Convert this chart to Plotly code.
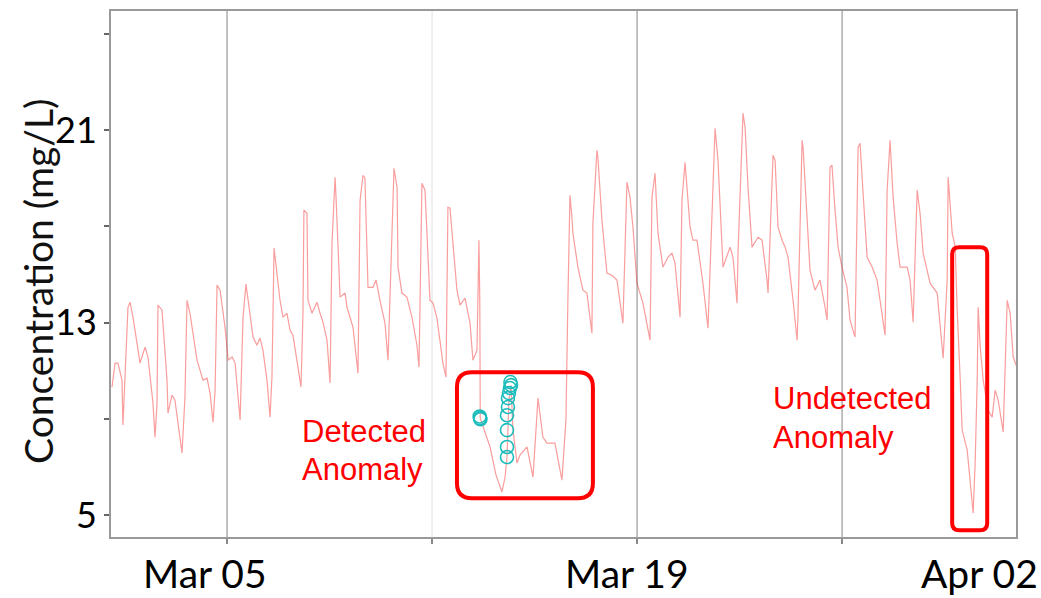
import pandas as pd
import plotly.graph_objects as go

# ---- measured concentration series (hours after start, mg/L) ----
start = pd.Timestamp("2019-03-01 00:00")

hours = [
    1.7, 4.2, 6.6, 9.9, 10.7, 12.4, 14.8, 16.5, 18.9, 24.7, 28.8, 31.2, 35.3, 37.0, 38.6,
    39.4, 42.7, 46.8, 47.6, 50.9, 53.3, 59.1, 61.5, 63.2, 65.6, 71.4, 76.3, 79.6, 82.1, 84.5,
    86.2, 87.8, 90.3, 94.4, 96.9, 100.1, 102.6, 106.7, 109.1, 111.5, 114.8, 117.3, 120.5, 123.0,
    125.4, 128.7, 131.2, 132.8, 134.5, 136.9, 139.4, 141.8, 145.1, 147.6, 150.0, 154.1, 156.6,
    158.2, 159.0, 161.5, 162.3, 165.6, 169.7, 172.2, 174.6, 177.9, 180.4, 182.0, 184.5, 185.3,
    186.9, 188.6, 192.7, 194.3, 199.2, 203.3, 205.0, 207.4, 209.0, 210.7, 211.5, 215.6, 218.1,
    221.3, 225.4, 227.9, 232.0, 232.8, 235.3, 236.1, 239.3, 243.4, 247.5, 251.6, 253.3, 255.7,
    258.2, 259.8, 262.3, 264.8, 268.0, 272.9, 275.4, 277.0, 278.7, 281.1, 284.4, 286.9, 291.0,
    295.1, 297.5, 300.8, 302.4, 303.1, 303.5, 311.5, 316.4, 321.3, 323.8, 325.4, 326.2, 327.0,
    328.7, 330.3, 333.6, 336.0, 341.8, 346.7, 350.8, 354.8, 358.1, 364.7, 370.4, 373.7, 375.3,
    377.0, 378.6, 379.4, 383.5, 387.6, 390.9, 395.0, 395.8, 399.1, 399.9, 403.2, 407.3, 411.4,
    415.5, 420.4, 423.7, 426.2, 428.6, 431.9, 436.8, 442.6, 444.2, 446.7, 449.1, 453.2, 457.3,
    460.6, 463.1, 467.2, 468.8, 471.3, 475.4, 477.8, 481.1, 486.0, 490.1, 493.4, 495.9, 498.3,
    502.4, 508.2, 510.6, 513.9, 514.7, 518.8, 520.5, 522.9, 526.2, 531.1, 534.4, 538.5, 539.3,
    543.4, 545.1, 547.5, 550.8, 553.3, 555.7, 559.8, 563.1, 563.9, 567.2, 568.0, 571.3, 573.7,
    577.8, 581.9, 586.0, 587.7, 590.1, 591.7, 594.2, 596.7, 599.9, 604.0, 606.5, 610.6, 613.1,
    614.7, 617.2, 620.5, 624.6, 628.7, 635.2, 636.9, 639.3, 641.8, 645.1, 647.5, 653.3, 655.7,
    658.2, 661.5, 663.9, 666.4, 672.1, 677.9, 682.8, 686.1, 686.9, 690.2, 692.7, 694.3, 696.8,
    698.4, 702.5, 705.0, 707.4, 709.1, 710.7, 711.5, 713.2, 715.6, 719.7, 723.0, 725.4, 727.9,
    732.0, 735.3, 737.7, 740.2, 742.6,
]

conc = [
    10.32, 11.32, 11.32, 10.61, 8.74, 10.61, 13.64, 13.85, 13.23, 11.32, 11.98, 11.57, 9.65, 8.24, 9.65,
    13.73, 13.52, 10.61, 9.24, 9.99, 9.78, 7.58, 9.90, 13.93, 13.39, 11.44, 10.61, 10.69, 10.07, 8.86,
    10.19, 14.56, 14.35, 12.77, 11.44, 11.57, 11.32, 8.95, 13.23, 14.60, 13.23, 12.40, 12.06, 12.36,
    11.86, 10.61, 9.07, 10.73, 16.10, 15.06, 13.93, 13.23, 13.39, 12.69, 12.48, 11.15, 10.32,
    13.39, 17.68, 17.55, 13.93, 13.39, 13.85, 13.39, 13.02, 12.27, 10.49, 16.30, 19.05, 18.22,
    16.30, 14.06, 14.23, 13.64, 12.81, 10.90, 18.09, 19.13, 19.01, 15.31, 14.47, 14.47, 14.77,
    13.93, 12.98, 11.44, 18.38, 19.42, 18.63, 15.31, 14.23, 14.06, 13.23, 12.06, 11.15, 18.80,
    18.51, 16.72, 13.93, 13.81, 13.19, 11.32, 10.73, 17.80, 17.76, 16.30, 14.35, 13.73, 14.02,
    12.98, 11.44, 11.86, 16.43, 13.93, 9.03, 7.83, 6.66, 5.96, 6.58, 7.41, 8.53, 9.78,
    10.40, 8.53, 7.16, 7.49, 7.83, 6.58, 9.86, 8.24, 7.99, 7.99, 6.45, 8.95, 13.93,
    18.30, 17.38, 16.72, 15.31, 14.35, 14.23, 12.56, 17.13, 20.17, 19.88, 17.26, 15.06, 14.97,
    14.77, 12.98, 18.84, 18.22, 16.97, 14.64, 13.81, 12.27, 18.22, 19.21, 16.72, 15.31, 15.72,
    15.89, 15.47, 13.23, 18.09, 19.67, 16.97, 16.43, 16.43, 14.64, 12.77, 17.38, 21.08, 19.75,
    15.31, 16.14, 15.72, 13.81, 15.89, 21.71, 21.12, 18.63, 16.14, 16.55, 16.43, 14.77, 14.23,
    19.96, 19.75, 16.97, 16.43, 16.14, 15.72, 13.93, 12.27, 13.39, 20.58, 20.29, 17.26, 15.18,
    14.35, 14.77, 13.64, 13.10, 19.46, 19.55, 17.68, 16.14, 15.31, 14.47, 13.10, 12.40, 20.29,
    20.46, 18.38, 15.72, 15.31, 14.77, 12.48, 18.51, 20.58, 18.22, 16.30, 15.31, 15.31, 14.77,
    13.02, 18.51, 17.55, 15.89, 14.64, 14.23, 11.52, 14.77, 19.05, 16.72, 16.14, 13.52, 10.61,
    8.53, 7.70, 6.25, 5.08, 7.29, 10.61, 13.64, 11.98, 10.61, 9.36, 9.07, 10.19, 9.78,
    8.45, 13.93, 13.39, 11.57, 11.23,
]

# ---- points flagged by the detector ----
flag_hours = [303.0, 303.3, 303.6, 325.4, 325.4, 325.4, 325.4, 326.2, 326.2, 327.0, 327.8, 328.7, 328.2]
flag_conc = [9.10, 9.03, 8.98, 7.41, 7.83, 8.53, 9.15, 9.49, 9.86, 10.07, 10.28, 10.40, 10.53]

# ---- highlighted anomaly windows: (hour start, hour end, conc low, conc high) ----
detected_window = (284.4, 395.8, 5.70, 10.94)
undetected_window = (690.2, 718.9, 4.37, 16.14)

# ---- axis ticks ----
y_ticks = [5, 9, 13, 17, 21, 25]
y_tick_text = ["5", "", "13", "", "21", ""]
week_lines = ["2019-03-05", "2019-03-12", "2019-03-19", "2019-03-26"]
date_labels = ["Mar 05", "Mar 19", "Apr 02"]
y_title = "Concentration (mg/L)"

X_RANGE_H = (0.9, 742.5)
Y_RANGE = (4.086, 25.96)
PLOT_L, PLOT_T = 111, 9
PLOT_W, PLOT_H = 905, 528

times = start + pd.to_timedelta(hours, unit="h")
flag_times = start + pd.to_timedelta(flag_hours, unit="h")

fig = go.Figure()
fig.add_trace(go.Scatter(
    x=times, y=conc, mode="lines",
    line=dict(color="rgba(245,60,60,0.5)", width=1.2),
    hoverinfo="x+y", showlegend=False,
))
fig.add_trace(go.Scatter(
    x=flag_times, y=flag_conc, mode="markers",
    marker=dict(symbol="circle-open", size=13, color="#1dbcbc", line=dict(width=1.6)),
    showlegend=False,
))


def to_paper(h, v):
    px = (h - X_RANGE_H[0]) / (X_RANGE_H[1] - X_RANGE_H[0])
    py = (v - Y_RANGE[0]) / (Y_RANGE[1] - Y_RANGE[0])
    return px, py


def px_to_paper(px, py):
    return (px - PLOT_L) / PLOT_W, (PLOT_T + PLOT_H - py) / PLOT_H


def rounded_box(window, radius):
    h0, h1, v0, v1 = window
    x0, y0 = to_paper(h0, v0)
    x1, y1 = to_paper(h1, v1)
    rx, ry = radius / PLOT_W, radius / PLOT_H
    return (
        f"M {x0+rx},{y0} L {x1-rx},{y0} Q {x1},{y0} {x1},{y0+ry} "
        f"L {x1},{y1-ry} Q {x1},{y1} {x1-rx},{y1} "
        f"L {x0+rx},{y1} Q {x0},{y1} {x0},{y1-ry} "
        f"L {x0},{y0+ry} Q {x0},{y0} {x0+rx},{y0} Z"
    )


shapes = []
grid_colors = ["#b2b2b2", "#ececec", "#b2b2b2", "#b2b2b2"]
for d, c in zip(week_lines, grid_colors):
    shapes.append(dict(type="line", xref="x", yref="paper", x0=d, x1=d, y0=0, y1=1,
                       line=dict(color=c, width=1.6), layer="below"))
for win, r in ((detected_window, 15), (undetected_window, 7)):
    shapes.append(dict(type="path", xref="paper", yref="paper", path=rounded_box(win, r),
                       line=dict(color="#ff0000", width=4), fillcolor="rgba(0,0,0,0)"))

annotations = []
label_font = dict(family="Liberation Sans, Arial, sans-serif", size=31, color="#ff0000")
for text, px, py in (("Detected", 300, 431), ("Anomaly", 300, 469),
                     ("Undetected", 771, 398), ("Anomaly", 771, 437)):
    ax, ay = px_to_paper(px, py)
    annotations.append(dict(text=text, xref="paper", yref="paper", x=ax, y=ay,
                            xanchor="left", yanchor="middle", showarrow=False, font=label_font))

tick_font = dict(family="Lato, sans-serif", size=39, color="#000000")
for text, px in zip(date_labels, (205, 627, 979)):
    ax, ay = px_to_paper(px, 573)
    annotations.append(dict(text=text, xref="paper", yref="paper", x=ax, y=ay,
                            xanchor="center", yanchor="middle", showarrow=False, font=tick_font))

# rotated axis title
tx, ty = px_to_paper(38, 281)
annotations.append(dict(text=y_title, xref="paper", yref="paper", x=tx, y=ty,
                        xanchor="center", yanchor="middle", textangle=-90, showarrow=False,
                        font=dict(family="Lato, sans-serif", size=39, color="#111111")))

fig.update_layout(
    width=1041, height=598,
    margin=dict(l=PLOT_L, r=1041 - PLOT_L - PLOT_W, t=PLOT_T, b=598 - PLOT_T - PLOT_H),
    paper_bgcolor="white", plot_bgcolor="white",
    shapes=shapes, annotations=annotations,
    xaxis=dict(
        type="date",
        range=[start + pd.Timedelta(hours=X_RANGE_H[0]), start + pd.Timedelta(hours=X_RANGE_H[1])],
        tickvals=week_lines, showticklabels=False,
        ticks="outside", ticklen=5, tickwidth=1.5, tickcolor="#888888",
        showgrid=False, zeroline=False,
        showline=True, mirror=True, linecolor="#999999", linewidth=2,
    ),
    yaxis=dict(
        range=list(Y_RANGE),
        tickvals=y_ticks, ticktext=y_tick_text,
        ticks="outside", ticklen=5, tickwidth=1.5, tickcolor="#666666",
        tickfont=dict(family="Lato, sans-serif", size=36, color="#000000"),
        showgrid=False, zeroline=False,
        showline=True, mirror=True, linecolor="#999999", linewidth=2,
    ),
)

fig.write_html("out.html")
